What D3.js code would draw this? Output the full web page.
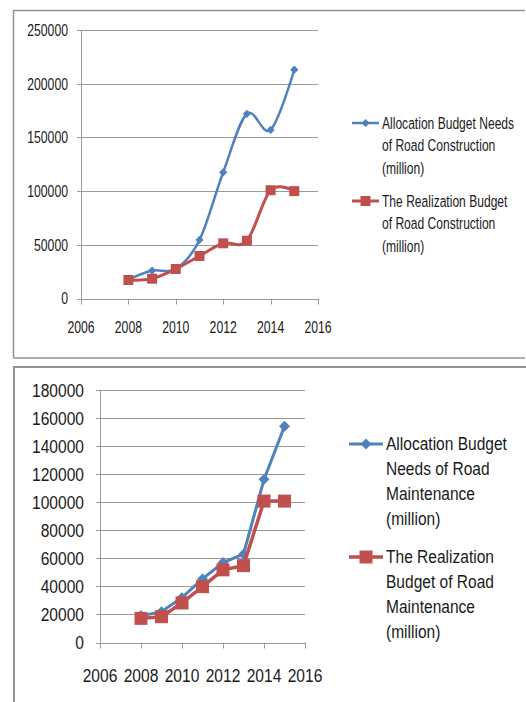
<!DOCTYPE html>
<html lang="en">
<head>
    <meta charset="UTF-8">
    <title>Road Construction and Maintenance Budget</title>
    <script src="https://cdnjs.cloudflare.com/ajax/libs/d3/7.8.5/d3.min.js"></script>
    <style>
        body {
            margin: 0;
            background: #ffffff;
        }
        svg text {
            font-family: "Liberation Sans", Arial, sans-serif;
            fill: #1a1a1a;
        }
        .grid line {
            stroke: #9a9a9a;
            stroke-width: 1;
        }
        .frame {
            fill: none;
            stroke: #939393;
        }
    </style>
</head>
<body>
    <svg id="chart" width="526" height="702"></svg>

    <script>
        const years = [2008, 2009, 2010, 2011, 2012, 2013, 2014, 2015];

        // construction (top chart)
        const constructionNeeds = [17500, 26000, 27500, 54500, 117500, 172000, 157000, 213000];
        const constructionReal = [17200, 18400, 27500, 39600, 51400, 53800, 100800, 100000];

        // maintenance (bottom chart)
        const maintenanceNeeds = [19000, 22000, 32000, 45300, 57000, 63000, 116300, 154200];
        const maintenanceReal = [17200, 18400, 28200, 39800, 51800, 54800, 100800, 100800];

        const xTicks = [2006, 2008, 2010, 2012, 2014, 2016];
        const yTicksTop = [0, 50000, 100000, 150000, 200000, 250000];
        const yTicksBottom = [0, 20000, 40000, 60000, 80000, 100000, 120000, 140000, 160000, 180000];

        const legendTop = [
            ["Allocation Budget Needs", "of Road Construction", "(million)"],
            ["The Realization Budget", "of Road Construction", "(million)"]
        ];
        const legendBottom = [
            ["Allocation Budget", "Needs of Road", "Maintenance", "(million)"],
            ["The Realization", "Budget of Road", "Maintenance", "(million)"]
        ];

        const blue = "#4f81bd";
        const red = "#c0504d";

        const svg = d3.select("#chart");

        // panel frames
        svg.append("path").attr("class", "frame")
            .attr("stroke-width", 1.5)
            .attr("d", "M13.5,358 L13.5,10.5 L525,10.5 M13.5,358 L525,358");
        svg.append("path").attr("class", "frame")
            .attr("stroke-width", 2)
            .attr("d", "M14,702 L14,367 L526,367");

        // text is squeezed sideways to get the narrow look of the original font
        function label(g, px, py, txt, size, anchor, squeeze) {
            return g.append("text")
                .attr("transform", `translate(${px},${py}) scale(${squeeze},1)`)
                .attr("dy", "0.35em")
                .attr("text-anchor", anchor)
                .attr("font-size", size)
                .text(txt);
        }

        function drawPanel(opt) {
            const g = svg.append("g");
            const x = d3.scaleLinear().domain([2006, 2016]).range([opt.left, opt.right]);
            const y = d3.scaleLinear().domain([0, opt.yMax]).range([opt.bottom, opt.top]);

            // horizontal gridlines
            const grid = g.append("g").attr("class", "grid");
            grid.selectAll("line.h").data(opt.yTicks).join("line")
                .attr("x1", opt.left - 4).attr("x2", opt.right)
                .attr("y1", d => Math.round(y(d)) + 0.5).attr("y2", d => Math.round(y(d)) + 0.5);
            // y axis line
            grid.append("line")
                .attr("x1", opt.left + 0.5).attr("x2", opt.left + 0.5)
                .attr("y1", opt.top).attr("y2", opt.bottom);
            // x tick marks
            grid.selectAll("line.xt").data(xTicks).join("line")
                .attr("x1", d => Math.round(x(d)) + 0.5).attr("x2", d => Math.round(x(d)) + 0.5)
                .attr("y1", opt.bottom).attr("y2", opt.bottom + 6);

            opt.yTicks.forEach(d => label(g, opt.left - opt.yLabelGap, y(d), d, opt.fontSize, "end", opt.squeeze));
            xTicks.forEach(d => label(g, x(d), opt.xLabelY, d, opt.fontSize, "middle", opt.squeeze));

            const line = d3.line()
                .x((d, i) => x(years[i]))
                .y(d => y(d))
                .curve(opt.smooth ? d3.curveCardinal.tension(0) : d3.curveLinear);

            const diamond = d3.symbol(d3.symbolSquare, opt.diamondSize);
            const square = d3.symbol(d3.symbolSquare, opt.squareSize);

            // needs series
            g.append("path").datum(opt.needs)
                .attr("d", line).attr("fill", "none")
                .attr("stroke", blue).attr("stroke-width", opt.lineWidth);
            g.selectAll("path.dm").data(opt.needs).join("path")
                .attr("d", diamond)
                .attr("transform", (d, i) => `translate(${x(years[i])},${y(d)}) rotate(45)`)
                .attr("fill", blue);

            // realization series
            g.append("path").datum(opt.real)
                .attr("d", line).attr("fill", "none")
                .attr("stroke", red).attr("stroke-width", opt.lineWidth + 0.5);
            g.selectAll("path.sq").data(opt.real).join("path")
                .attr("d", square)
                .attr("transform", (d, i) => `translate(${x(years[i])},${y(d)})`)
                .attr("fill", red);

            // legend
            const colors = [blue, red];
            opt.legend.forEach((lines, k) => {
                const ly = opt.legendY[k];
                const c = colors[k];
                g.append("line")
                    .attr("x1", opt.legendX).attr("x2", opt.legendX + opt.legendLine)
                    .attr("y1", ly).attr("y2", ly)
                    .attr("stroke", c).attr("stroke-width", opt.lineWidth + (k ? 0.5 : 0));
                g.append("path")
                    .attr("d", k ? square : diamond)
                    .attr("transform", `translate(${opt.legendX + opt.legendLine / 2},${ly})` + (k ? "" : " rotate(45)"))
                    .attr("fill", c);
                lines.forEach((t, j) => {
                    label(g, opt.legendX + opt.legendLine + 3, ly + j * opt.legendLineHeight, t,
                        opt.legendFont, "start", opt.legendSqueeze);
                });
            });
        }

        drawPanel({
            left: 81, right: 318, top: 30, bottom: 298.5, yMax: 250000,
            yTicks: yTicksTop, fontSize: 17, squeeze: 0.72, yLabelGap: 13, xLabelY: 327,
            needs: constructionNeeds, real: constructionReal, smooth: true,
            lineWidth: 2.5, diamondSize: 34, squareSize: 100,
            legend: legendTop, legendX: 352, legendLine: 27, legendY: [123, 201],
            legendFont: 17, legendSqueeze: 0.71, legendLineHeight: 22.5
        });

        drawPanel({
            left: 100, right: 305, top: 390, bottom: 642.5, yMax: 180000,
            yTicks: yTicksBottom, fontSize: 19, squeeze: 0.82, yLabelGap: 16, xLabelY: 675,
            needs: maintenanceNeeds, real: maintenanceReal, smooth: false,
            lineWidth: 3, diamondSize: 60, squareSize: 169,
            legend: legendBottom, legendX: 349, legendLine: 34, legendY: [444, 557],
            legendFont: 18.5, legendSqueeze: 0.84, legendLineHeight: 25
        });
    </script>
</body>
</html>
